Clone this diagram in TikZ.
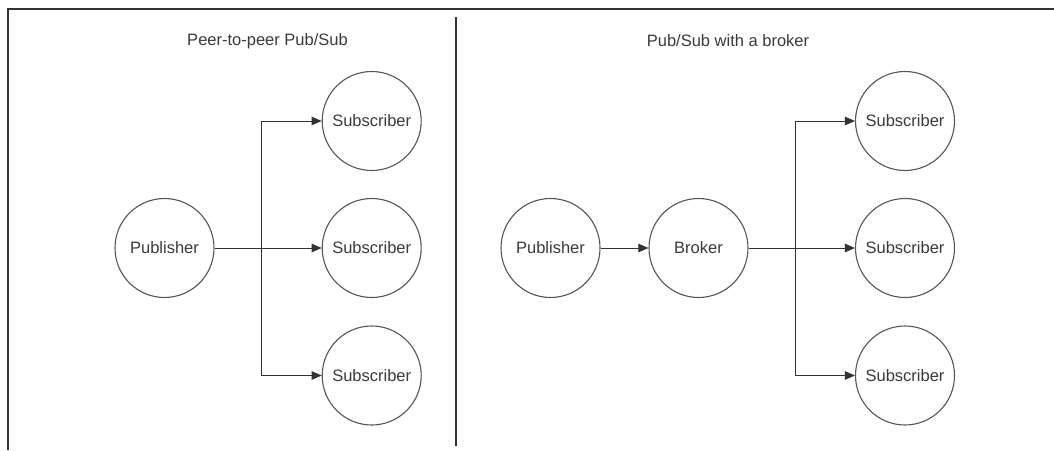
\documentclass[tikz,border=0pt]{standalone}
\usepackage{fontspec}
\setmainfont{Liberation Sans}
\usetikzlibrary{arrows.meta}
\definecolor{ink}{HTML}{3A3A3A}
\definecolor{lineg}{HTML}{555555}
\definecolor{frameg}{HTML}{333333}
\begin{document}
\begin{tikzpicture}[x=1pt,y=-1pt,
  circ/.style={circle,draw=lineg,line width=1.1pt,minimum size=99pt,inner sep=0pt,
    text=ink,font=\fontsize{16.5}{20}\selectfont},
  title/.style={text=ink,font=\fontsize{16.5}{20}\selectfont,inner sep=0pt},
  conn/.style={draw=frameg,line width=1pt},
  arr/.style={conn,-{Triangle[length=10pt,width=8.5pt]}}]
\useasboundingbox (0,0) rectangle (1054,450);
% frame
\draw[frameg,line width=2pt] (8,450) -- (8,8.5) -- (1054,8.5);
\draw[frameg,line width=2pt] (455.7,17) -- (455.7,446);
% titles
\node[title] (t1) at (267.5,41) {Peer-to-peer Pub/Sub};
\node[title] (t2) at (728,41) {Pub/Sub with a broker};
% left
\node[circ] (lp) at (164.5,248) {Publisher};
\node[circ] (ls1) at (371.7,121) {Subscriber};
\node[circ] (ls2) at (371.7,248) {Subscriber};
\node[circ] (ls3) at (371.7,375.5) {Subscriber};
\coordinate (lj) at (261.7,248);
\draw[arr] (lp) -- (ls2);
\draw[arr] (lj) |- (ls1);
\draw[arr] (lj) |- (ls3);
% right
\node[circ] (rp) at (550.5,248) {Publisher};
\node[circ] (rb) at (698.5,248) {Broker};
\node[circ] (rs1) at (905,121) {Subscriber};
\node[circ] (rs2) at (905,248) {Subscriber};
\node[circ] (rs3) at (905,375.5) {Subscriber};
\coordinate (rj) at (795,248);
\draw[arr] (rp) -- (rb);
\draw[arr] (rb) -- (rs2);
\draw[arr] (rj) |- (rs1);
\draw[arr] (rj) |- (rs3);
\end{tikzpicture}
\end{document}
